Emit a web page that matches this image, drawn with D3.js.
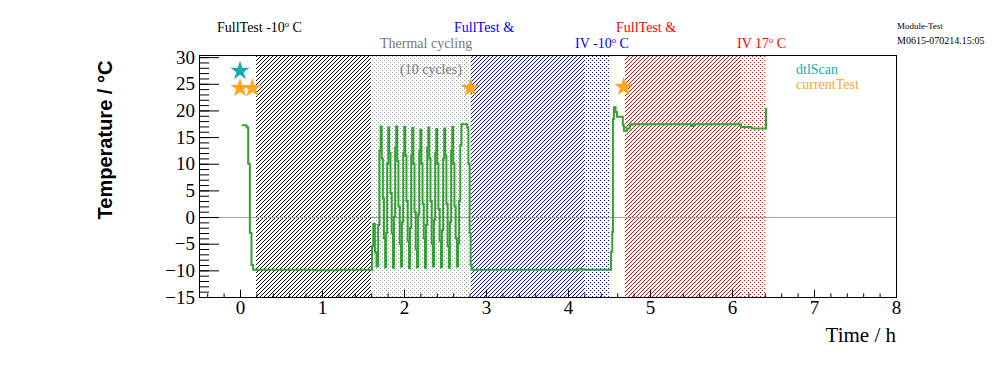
<!DOCTYPE html>
<html>
<head>
<meta charset="utf-8">
<script src="https://cdn.jsdelivr.net/npm/d3@7"></script>
<style>
  body { margin: 0; background: #fff; }
  svg { display: block; }
</style>
</head>
<body>
<div class="canvas"></div>
<script>
// Temperature log (time in hours, temperature in deg C)
const hours = [
  0.02, 0.08, 0.10, 0.12, 0.14, 0.16, 0.50, 0.90, 1.20, 1.600,
  1.610, 1.625, 1.645, 1.665, 1.685, 1.700, 1.715, 1.728, 1.742, 1.755, 1.770,
  1.782, 1.795, 1.808, 1.820, 1.835, 1.850, 1.865,
  1.878, 1.892, 1.905, 1.918, 1.932, 1.948, 1.962,
  1.975, 1.990, 2.003, 2.016, 2.030, 2.045, 2.060,
  2.073, 2.088, 2.100, 2.114, 2.128, 2.143, 2.158,
  2.172, 2.186, 2.199, 2.212, 2.226, 2.241, 2.255,
  2.269, 2.283, 2.296, 2.309, 2.323, 2.338, 2.352,
  2.366, 2.380, 2.393, 2.406, 2.420, 2.435, 2.450,
  2.463, 2.477, 2.490, 2.503, 2.517, 2.532, 2.547,
  2.560, 2.575, 2.588, 2.601, 2.615, 2.630, 2.645,
  2.660, 2.672, 2.686, 2.700, 2.770, 2.785, 2.800, 2.812, 2.825,
  3.50, 4.10, 4.13, 4.20, 4.525, 4.540, 4.548, 4.560, 4.580, 4.598,
  4.668, 4.682, 4.718, 4.752, 4.775, 5.50, 5.51, 5.53, 6.10, 6.11,
  6.24, 6.415, 6.43
];
const tempC = [
  17.2, 16.8, 10.0, -3.0, -9.0, -9.9, -9.9, -10.0, -9.9, -9.9,
  -5.5, -1.3, -6.6, -9.3, -1.5, 12.5, 17.0, 11.0, 3.5, -4.0, -9.4,
  -3.0, 10.0, 16.8, 12.0, 4.5, -3.0, -9.5,
  0.0, 13.0, 17.0, 10.5, 2.0, -5.0, -9.3,
  -1.0, 12.0, 16.9, 11.5, 3.0, -4.5, -9.6,
  -2.0, 11.5, 16.7, 10.0, 1.0, -6.0, -9.4,
  0.5, 12.5, 16.4, 10.0, 2.5, -4.0, -9.5,
  -1.5, 13.0, 16.8, 11.0, 3.0, -5.0, -9.3,
  -0.5, 12.0, 16.5, 10.0, 1.5, -4.5, -9.4,
  -2.5, 11.0, 16.6, 11.5, 2.5, -5.5, -9.5,
  -1.0, 12.5, 16.9, 10.0, 2.0, -4.0, -9.3,
  -5.0, 3.0, 13.5, 17.4, 16.8, 10.0, -3.0, -9.0, -9.9,
  -9.9, -10.0, -9.8, -9.9, -6.5, -2.8, 18.4, 20.6, 19.7, 18.8,
  17.2, 16.2, 16.6, 17.2, 17.4, 17.3, 17.1, 17.4, 17.4, 16.9,
  16.6, 20.2, 20.2
];

// test phases (hours)
const bandStart = [0.20, 1.60, 2.82, 4.20, 4.70, 6.10];
const bandEnd   = [1.60, 2.82, 4.20, 4.50, 6.10, 6.40];

// markers
const dtlScanH = [0.0];
const dtlScanT = [27.4];
const currentH = [0.0, 0.15, 2.81, 4.68];
const currentT = [24.2, 24.2, 24.2, 24.4];

const xMajor = d3.range(0, 9, 1);
const yMajor = d3.range(-15, 31, 5);

// Set dimensions
const W = 996, H = 372;
const plot = { left: 199, right: 896, top: 55, bottom: 297 };

const x = d3.scaleLinear().domain([-0.5, 8]).range([plot.left, plot.right]);
const y = d3.scaleLinear().domain([-15, 30.4]).range([plot.bottom, plot.top]);

const svg = d3.select(".canvas")
  .append("svg")
    .attr("width", W)
    .attr("height", H);

const defs = svg.append("defs");

// band styles: dense "/" hatching or sparse dots
const bandStyle = [
  { kind: "hatch", color: "#000000" },
  { kind: "dots",  color: "#98a4a4" },
  { kind: "hatch", color: "#0000ff" },
  { kind: "dots",  color: "#0000ff" },
  { kind: "hatch", color: "#ff0000" },
  { kind: "dots",  color: "#ff0000" }
];

defs.append("clipPath").attr("id", "clip")
  .append("rect")
    .attr("x", plot.left).attr("y", plot.top)
    .attr("width", plot.right - plot.left).attr("height", plot.bottom - plot.top);

// bands drawn as single pixels (one path per band)
const bandG = svg.append("g").attr("shape-rendering", "crispEdges");
bandStart.forEach((b, i) => {
  const x0 = Math.round(x(b)), x1 = Math.round(x(bandEnd[i]));
  const s = bandStyle[i];
  let d = "";
  for (let py = plot.top + 1; py < plot.bottom; py++) {
    for (let px = x0; px < x1; px++) {
      const on = s.kind === "hatch"
        ? ((px + py) % 4 === 0)
        : ((px % 4 === 0 && py % 4 === 0) || (px % 4 === 2 && py % 4 === 2));
      if (on) d += `M${px},${py}h1v1h-1z`;
    }
  }
  bandG.append("path").attr("d", d).attr("fill", s.color);
});

// zero line
svg.append("line")
  .attr("x1", plot.left).attr("x2", plot.right)
  .attr("y1", Math.round(y(0)) + 0.5).attr("y2", Math.round(y(0)) + 0.5)
  .attr("stroke", "#aaa397").attr("stroke-width", 1);

// temperature curve
const line = d3.line()
  .x((d, i) => x(hours[i]))
  .y((d) => y(d))
  .curve(d3.curveStepAfter);

svg.append("path")
  .datum(tempC)
  .attr("clip-path", "url(#clip)")
  .attr("fill", "none")
  .attr("stroke", "#33a232")
  .attr("stroke-width", 2)
  .attr("d", line);

// markers
const star = d3.symbol().type(d3.symbolStar).size(115);
svg.append("g").selectAll("path")
  .data(dtlScanH)
  .join("path")
    .attr("transform", (d, i) => `translate(${x(d)},${y(dtlScanT[i])})`)
    .attr("d", star)
    .attr("fill", "#16adad");
svg.append("g").selectAll("path")
  .data(currentH)
  .join("path")
    .attr("transform", (d, i) => `translate(${x(d)},${y(currentT[i])})`)
    .attr("d", star)
    .attr("fill", "#fda61c");

// x-axis: minor then major ticks pointing inward
const tickFont = "Liberation Serif, Times New Roman, serif";
svg.append("g")
  .attr("transform", `translate(0,${plot.bottom})`)
  .call(d3.axisBottom(x).tickValues(d3.range(-0.4, 8.01, 0.2)).tickSize(-3.6).tickFormat(""))
  .call((g) => g.select(".domain").remove());
svg.append("g")
  .attr("transform", `translate(0,${plot.bottom})`)
  .call(d3.axisBottom(x).tickValues(xMajor).tickSize(-7.3).tickPadding(4).tickFormat(d3.format("d")))
  .call((g) => g.select(".domain").remove())
  .call((g) => g.selectAll("text").attr("font-family", tickFont).attr("font-size", 19).attr("fill", "#000"));

// y-axis
svg.append("g")
  .attr("transform", `translate(${plot.left},0)`)
  .call(d3.axisLeft(y).tickValues(d3.range(-15, 31, 1)).tickSize(-10).tickFormat(""))
  .call((g) => g.select(".domain").remove());
svg.append("g")
  .attr("transform", `translate(${plot.left},0)`)
  .call(d3.axisLeft(y).tickValues(yMajor).tickSize(-20).tickPadding(4).tickFormat(d3.format("d")))
  .call((g) => g.select(".domain").remove())
  .call((g) => g.selectAll("text").attr("font-family", tickFont).attr("font-size", 19).attr("fill", "#000"));

// frame
svg.append("rect")
  .attr("x", plot.left + 0.5).attr("y", plot.top + 0.5)
  .attr("width", plot.right - plot.left).attr("height", plot.bottom - plot.top)
  .attr("fill", "none").attr("stroke", "#000").attr("stroke-width", 1);

// axis titles
svg.append("text")
  .attr("x", plot.right).attr("y", 342)
  .attr("text-anchor", "end")
  .attr("font-family", tickFont).attr("font-size", 21)
  .text("Time / h");
svg.append("text")
  .attr("transform", "translate(112,140) rotate(-90)")
  .attr("text-anchor", "middle")
  .attr("font-family", "Liberation Sans, Arial, sans-serif")
  .attr("font-weight", "bold").attr("font-size", 20)
  .text("Temperature / °C");

// phase labels
function label(xp, yp, color, parts, size) {
  const t = svg.append("text")
    .attr("x", xp).attr("y", yp)
    .attr("font-family", tickFont).attr("font-size", size || 14)
    .attr("fill", color);
  parts.forEach((p) => {
    if (p.sup) {
      t.append("tspan").attr("dy", -5).attr("font-size", 8.5).text(p.sup);
      t.append("tspan").attr("dy", 5).text(p.after);
    } else {
      t.append("tspan").text(p.text);
    }
  });
}
label(217, 32, "#000", [{ text: "FullTest -10" }, { sup: "o", after: " C" }]);
label(380, 48, "#777", [{ text: "Thermal cycling" }]);
label(400, 74, "#777", [{ text: "(10 cycles)" }]);
label(454, 32, "#0000ff", [{ text: "FullTest &" }]);
label(575, 48, "#0000ff", [{ text: "IV -10" }, { sup: "o", after: " C" }]);
label(616, 32, "#ff0000", [{ text: "FullTest &" }]);
label(737, 48, "#ff0000", [{ text: "IV 17" }, { sup: "o", after: " C" }]);

// legend
label(796, 74, "#16adad", [{ text: "dtlScan" }]);
label(796, 89, "#fda61c", [{ text: "currentTest" }]);

// stamp
label(897, 29, "#000", [{ text: "Module-Test" }], 9);
label(897, 44, "#000", [{ text: "M0615-070214.15:05" }], 10);
</script>
</body>
</html>
